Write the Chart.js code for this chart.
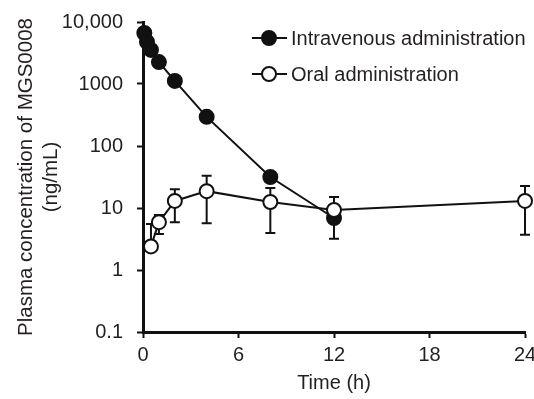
<!DOCTYPE html>
<html>
<head>
<meta charset="utf-8">
<script src="https://cdn.jsdelivr.net/npm/chart.js@4"></script>
<style>
  html, body { margin: 0; padding: 0; background: #fff; }
  #wrap { width: 534px; height: 399px; }
</style>
</head>
<body>
<div id="wrap"><canvas id="pk-chart" width="534" height="399"></canvas></div>
<script>
// time points (h)
let ivTime = [0.083, 0.25, 0.5, 1, 2, 4, 8, 12];
let ivConc = [6650, 4770, 3540, 2260, 1120, 295, 31.6, 6.9];

let oralTime = [0.5, 1, 2, 4, 8, 12, 24];
let oralConc = [2.4, 5.9, 13, 18.7, 12.5, 9.3, 13];
let oralUpper = [5.5, 7.7, 20, 33, 21, 15, 22.6];
let oralLower = [null, 3.8, 5.9, 5.7, 3.95, 3.2, 3.7];

let xTicks = [0, 6, 12, 18, 24];
let yTicks = [0.1, 1, 10, 100, 1000, 10000];

let seriesNames = ['Intravenous administration', 'Oral administration'];

const ink = '#231f20';
const font = 'Liberation Sans, Arial, sans-serif';

function toPoints(xs, ys) {
  return xs.map((x, i) => ({ x: x, y: ys[i] }));
}

// error bars for the oral series
const errorBars = {
  id: 'errorBars',
  beforeDatasetsDraw(chart) {
    let ctx = chart.ctx;
    let xs = chart.scales.x, ys = chart.scales.y;
    ctx.save();
    ctx.strokeStyle = '#111';
    ctx.lineWidth = 2;
    oralTime.forEach((t, i) => {
      let px = xs.getPixelForValue(t);
      let py = ys.getPixelForValue(oralConc[i]);
      [oralUpper[i], oralLower[i]].forEach(v => {
        if (v == null) return;
        let vy = ys.getPixelForValue(v);
        ctx.beginPath();
        ctx.moveTo(px, py);
        ctx.lineTo(px, vy);
        ctx.moveTo(px - 5, vy);
        ctx.lineTo(px + 5, vy);
        ctx.stroke();
      });
    });
    ctx.restore();
  }
};

// legend with line + marker
const lineLegend = {
  id: 'lineLegend',
  afterDraw(chart) {
    let ctx = chart.ctx;
    ctx.save();
    chart.data.datasets.forEach((ds, i) => {
      let y = 38 + i * 36;
      ctx.strokeStyle = '#111';
      ctx.lineWidth = 2;
      ctx.beginPath();
      ctx.moveTo(252, y);
      ctx.lineTo(287, y);
      ctx.stroke();
      ctx.beginPath();
      ctx.arc(269, y, 7, 0, Math.PI * 2);
      ctx.fillStyle = ds.pointBackgroundColor;
      ctx.fill();
      ctx.stroke();
      ctx.fillStyle = ink;
      ctx.font = '20px ' + font;
      ctx.textBaseline = 'middle';
      ctx.fillText(ds.label, 291, y + 1);
    });
    ctx.restore();
  }
};

let pk = document.getElementById('pk-chart').getContext('2d');

let pkChart = new Chart(pk, {
  type: 'line',
  data: {
    datasets: [{
      label: seriesNames[0],
      data: toPoints(ivTime, ivConc),
      borderColor: '#111',
      borderWidth: 2,
      pointRadius: 7,
      pointBackgroundColor: '#111',
      pointBorderColor: '#111',
      pointBorderWidth: 2,
      tension: 0,
      clip: false,
      order: 2
    }, {
      label: seriesNames[1],
      data: toPoints(oralTime, oralConc),
      borderColor: '#111',
      borderWidth: 2,
      pointRadius: 7,
      pointBackgroundColor: '#fff',
      pointBorderColor: '#111',
      pointBorderWidth: 2,
      tension: 0,
      clip: false,
      order: 1
    }]
  },
  options: {
    responsive: false,
    animation: false,
    layout: { padding: { top: 22, right: 9, left: 0, bottom: 0 } },
    plugins: {
      legend: { display: false },
      tooltip: { enabled: false }
    },
    scales: {
      x: {
        type: 'linear',
        min: 0,
        max: 24,
        afterBuildTicks: s => { s.ticks = xTicks.map(v => ({ value: v })); },
        afterFit: s => { s.height = 67; s.paddingRight = 0; s.paddingLeft = 0; },
        border: { color: '#111', width: 3 },
        grid: { drawOnChartArea: false, color: '#111', tickLength: 6, tickWidth: 2 },
        ticks: { color: ink, font: { family: font, size: 20 }, padding: 5, maxRotation: 0 },
        title: {
          display: true,
          text: 'Time (h)',
          color: ink,
          font: { family: font, size: 20 },
          padding: { top: 10 }
        }
      },
      y: {
        type: 'logarithmic',
        min: 0.1,
        max: 10000,
        afterBuildTicks: s => { s.ticks = yTicks.map(v => ({ value: v })); },
        afterFit: s => { s.width = 143; s.paddingTop = 0; s.paddingBottom = 0; },
        border: { color: '#111', width: 3 },
        grid: { drawOnChartArea: false, color: '#111', tickLength: 6, tickWidth: 2 },
        ticks: {
          color: ink,
          font: { family: font, size: 20 },
          padding: 14,
          callback: v => v === 10000 ? '10,000' : String(v)
        },
        title: {
          display: true,
          text: ['Plasma concentration of MGS0008', '(ng/mL)'],
          color: ink,
          font: { family: font, size: 20.5, lineHeight: 1.2 },
          padding: { top: 14, bottom: 0 }
        }
      }
    }
  },
  plugins: [errorBars, lineLegend]
});
</script>
</body>
</html>
